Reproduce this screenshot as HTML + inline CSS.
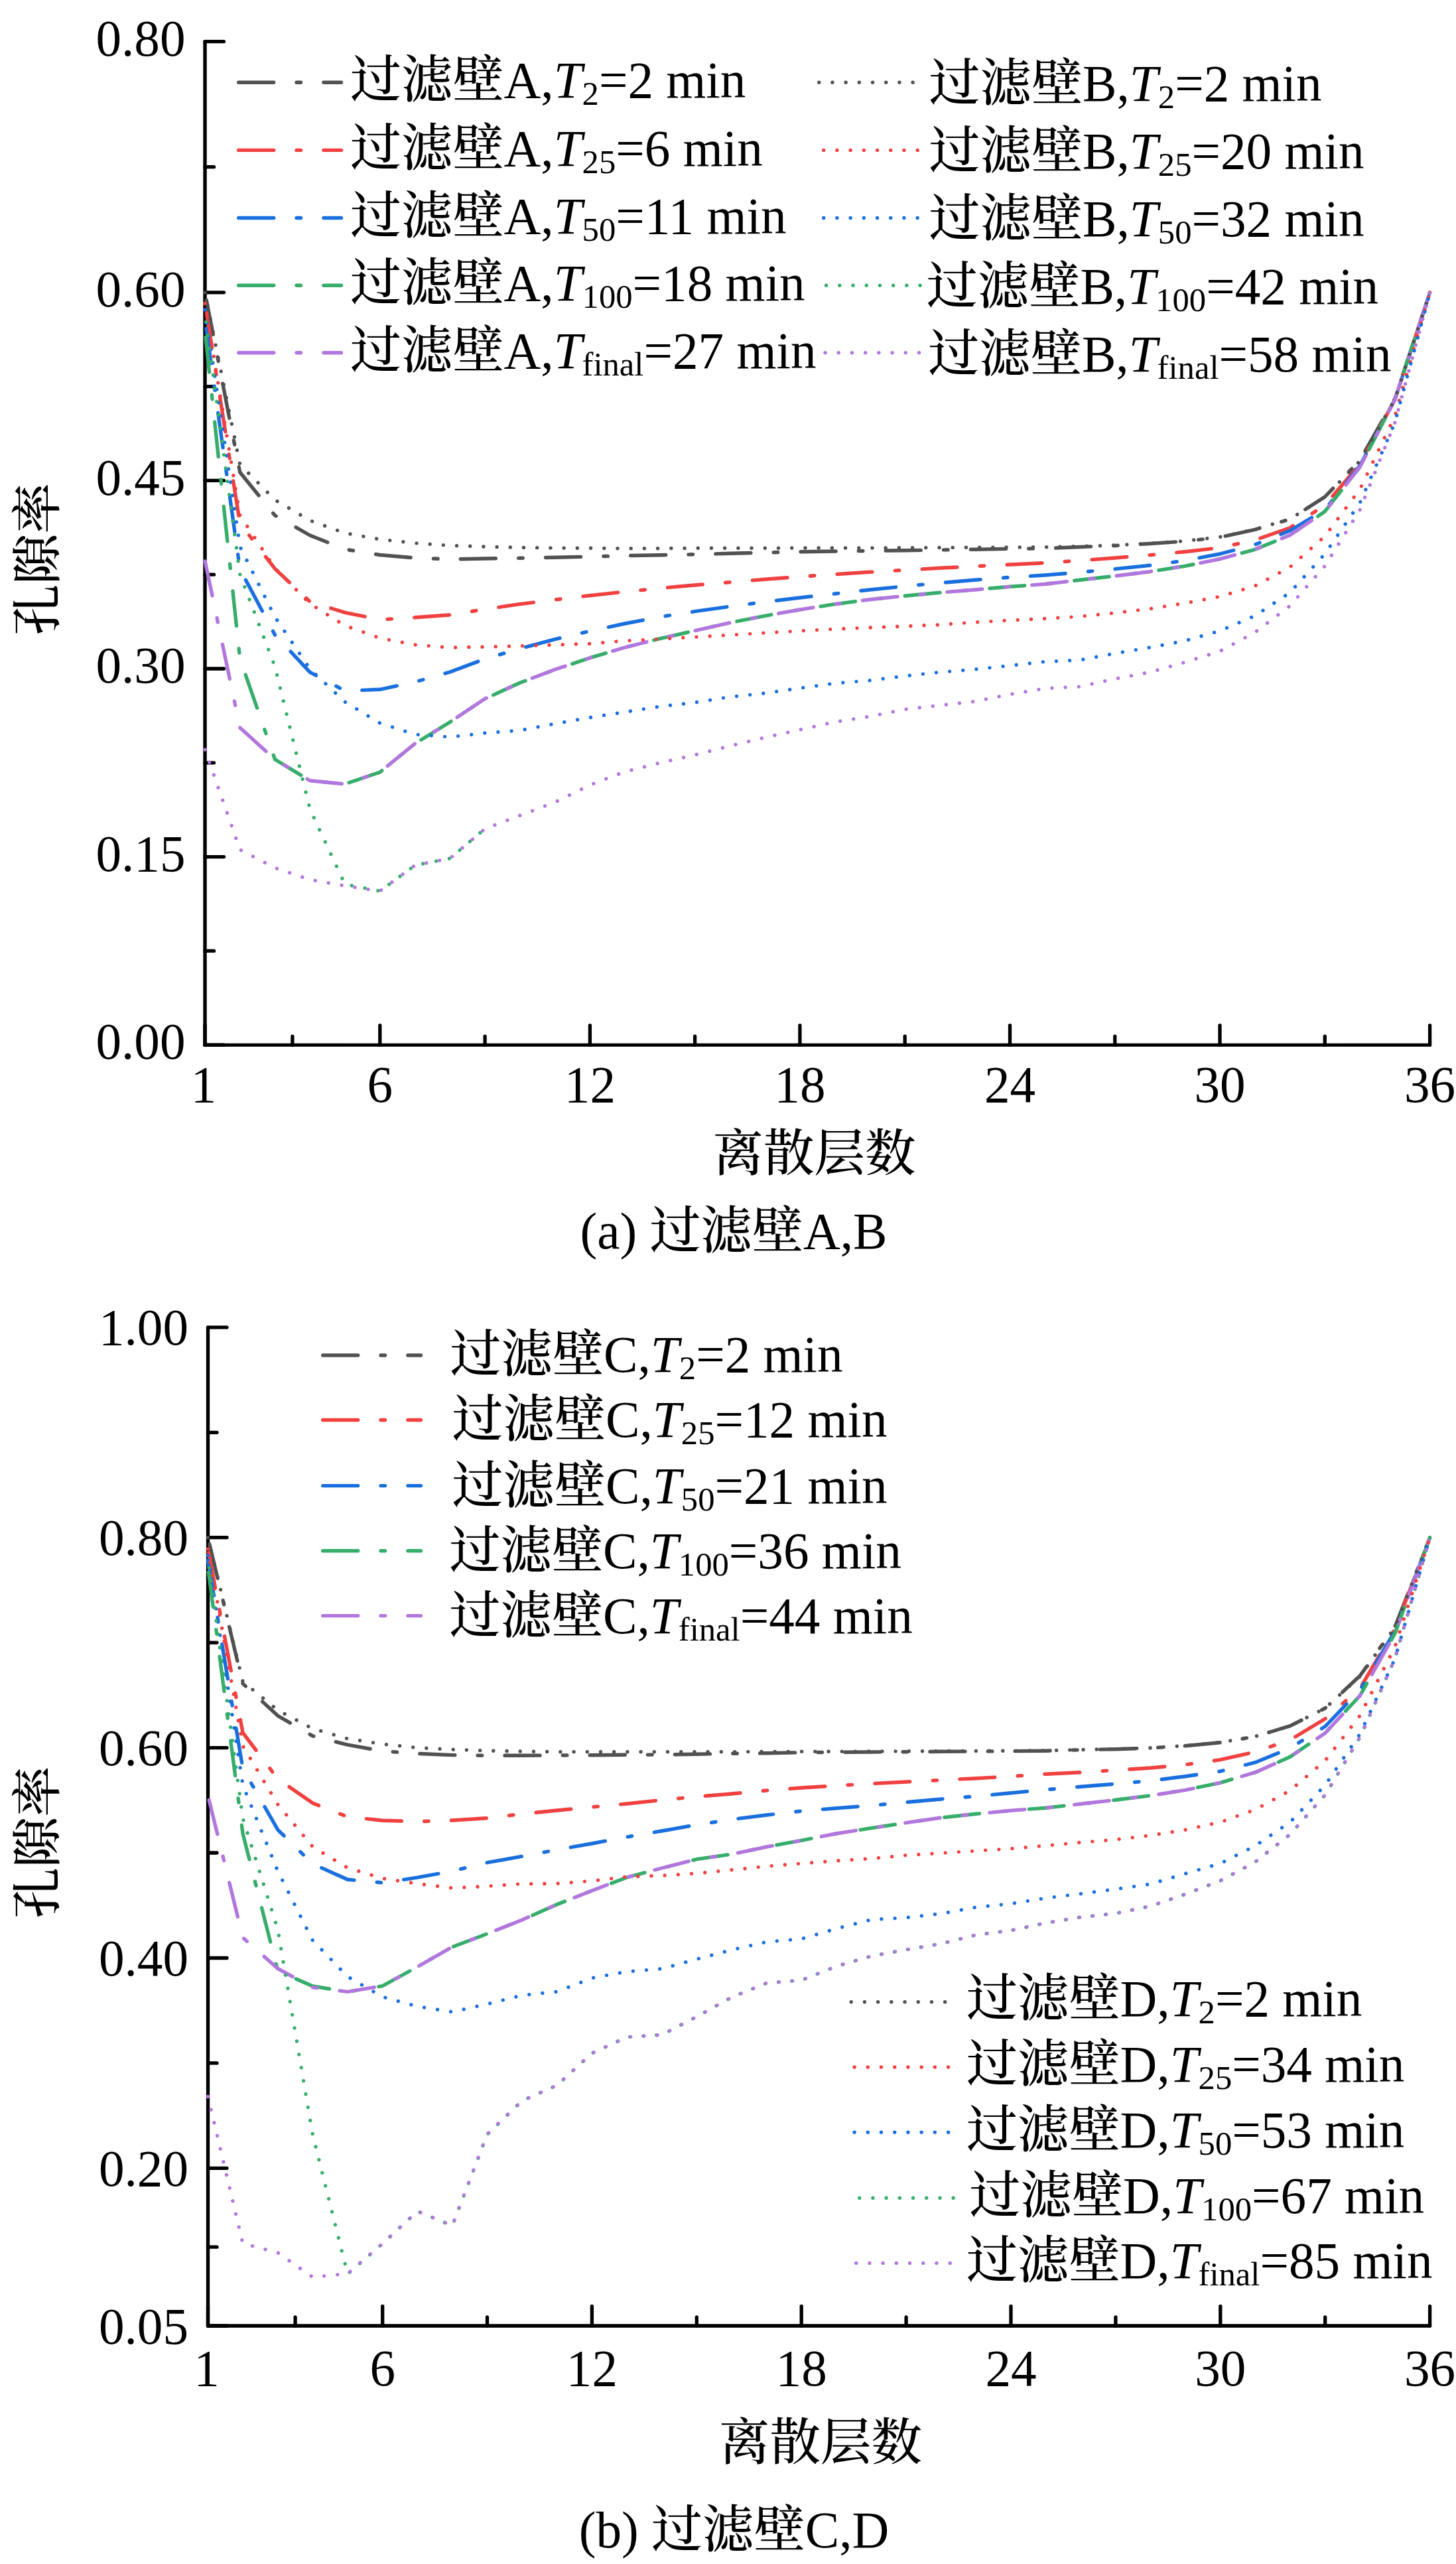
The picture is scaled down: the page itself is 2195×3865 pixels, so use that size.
<!DOCTYPE html>
<html lang="zh-CN">
<head>
<meta charset="utf-8">
<title>孔隙率 - 离散层数</title>
<style>
html,body{margin:0;padding:0;background:#fff;}
body{width:2195px;height:3865px;}
svg{display:block;}
text{font-family:"Liberation Serif", "Noto Serif CJK SC", serif;fill:#000;}
</style>
</head>
<body>
<svg width="2195" height="3865" viewBox="0 0 2195 3865">
<rect width="2195" height="3865" fill="#fff"/>

<g id="chart-a">
<line x1="309.0" y1="62.6" x2="309.0" y2="1575.2" stroke="#000" stroke-width="5.4" stroke-linecap="round"/>
<line x1="309.0" y1="1575.2" x2="2155.6" y2="1575.2" stroke="#000" stroke-width="5.0" stroke-linecap="round"/>
<line x1="309.0" y1="1575.2" x2="337.5" y2="1575.2" stroke="#000" stroke-width="5.3" stroke-linecap="round"/>
<text x="279.5" y="1596.4" font-size="77.2" text-anchor="end" >0.00</text>
<line x1="309.0" y1="1291.6" x2="337.5" y2="1291.6" stroke="#000" stroke-width="5.3" stroke-linecap="round"/>
<text x="279.5" y="1312.8" font-size="77.2" text-anchor="end" >0.15</text>
<line x1="309.0" y1="1008.0" x2="337.5" y2="1008.0" stroke="#000" stroke-width="5.3" stroke-linecap="round"/>
<text x="279.5" y="1029.2" font-size="77.2" text-anchor="end" >0.30</text>
<line x1="309.0" y1="724.4" x2="337.5" y2="724.4" stroke="#000" stroke-width="5.3" stroke-linecap="round"/>
<text x="279.5" y="745.6" font-size="77.2" text-anchor="end" >0.45</text>
<line x1="309.0" y1="440.8" x2="337.5" y2="440.8" stroke="#000" stroke-width="5.3" stroke-linecap="round"/>
<text x="279.5" y="461.9" font-size="77.2" text-anchor="end" >0.60</text>
<line x1="309.0" y1="62.6" x2="337.5" y2="62.6" stroke="#000" stroke-width="5.3" stroke-linecap="round"/>
<text x="279.5" y="83.8" font-size="77.2" text-anchor="end" >0.80</text>
<line x1="309.0" y1="1433.4" x2="322.5" y2="1433.4" stroke="#000" stroke-width="5.3" stroke-linecap="round"/>
<line x1="309.0" y1="1149.8" x2="322.5" y2="1149.8" stroke="#000" stroke-width="5.3" stroke-linecap="round"/>
<line x1="309.0" y1="866.2" x2="322.5" y2="866.2" stroke="#000" stroke-width="5.3" stroke-linecap="round"/>
<line x1="309.0" y1="582.6" x2="322.5" y2="582.6" stroke="#000" stroke-width="5.3" stroke-linecap="round"/>
<line x1="309.0" y1="251.7" x2="322.5" y2="251.7" stroke="#000" stroke-width="5.3" stroke-linecap="round"/>
<line x1="309.0" y1="1575.2" x2="309.0" y2="1545.7" stroke="#000" stroke-width="5.3" stroke-linecap="round"/>
<text x="307.0" y="1660.7" font-size="77.2" text-anchor="middle" >1</text>
<line x1="572.8" y1="1575.2" x2="572.8" y2="1545.7" stroke="#000" stroke-width="5.3" stroke-linecap="round"/>
<text x="572.8" y="1660.7" font-size="77.2" text-anchor="middle" >6</text>
<line x1="889.4" y1="1575.2" x2="889.4" y2="1545.7" stroke="#000" stroke-width="5.3" stroke-linecap="round"/>
<text x="889.4" y="1660.7" font-size="77.2" text-anchor="middle" >12</text>
<line x1="1205.9" y1="1575.2" x2="1205.9" y2="1545.7" stroke="#000" stroke-width="5.3" stroke-linecap="round"/>
<text x="1205.9" y="1660.7" font-size="77.2" text-anchor="middle" >18</text>
<line x1="1522.5" y1="1575.2" x2="1522.5" y2="1545.7" stroke="#000" stroke-width="5.3" stroke-linecap="round"/>
<text x="1522.5" y="1660.7" font-size="77.2" text-anchor="middle" >24</text>
<line x1="1839.0" y1="1575.2" x2="1839.0" y2="1545.7" stroke="#000" stroke-width="5.3" stroke-linecap="round"/>
<text x="1839.0" y="1660.7" font-size="77.2" text-anchor="middle" >30</text>
<line x1="2155.6" y1="1575.2" x2="2155.6" y2="1545.7" stroke="#000" stroke-width="5.3" stroke-linecap="round"/>
<text x="2155.6" y="1660.7" font-size="77.2" text-anchor="middle" >36</text>
<line x1="440.9" y1="1575.2" x2="440.9" y2="1562.2" stroke="#000" stroke-width="5.3" stroke-linecap="round"/>
<line x1="731.1" y1="1575.2" x2="731.1" y2="1562.2" stroke="#000" stroke-width="5.3" stroke-linecap="round"/>
<line x1="1047.6" y1="1575.2" x2="1047.6" y2="1562.2" stroke="#000" stroke-width="5.3" stroke-linecap="round"/>
<line x1="1364.2" y1="1575.2" x2="1364.2" y2="1562.2" stroke="#000" stroke-width="5.3" stroke-linecap="round"/>
<line x1="1680.8" y1="1575.2" x2="1680.8" y2="1562.2" stroke="#000" stroke-width="5.3" stroke-linecap="round"/>
<line x1="1997.3" y1="1575.2" x2="1997.3" y2="1562.2" stroke="#000" stroke-width="5.3" stroke-linecap="round"/>
<path d="M309.0,441.0 L361.8,712.0 L414.5,777.0 L467.3,807.0 L520.0,828.0 L572.8,836.5 L625.6,841.0 L678.3,843.0 L731.1,842.0 L783.8,841.3 L836.6,840.3 L889.4,839.0 L942.1,837.7 L994.9,836.7 L1047.6,835.7 L1100.4,834.3 L1153.2,833.0 L1205.9,831.7 L1258.7,831.0 L1311.4,830.3 L1364.2,829.7 L1417.0,829.0 L1469.7,828.2 L1522.5,827.3 L1575.2,826.7 L1628.0,824.5 L1680.8,822.5 L1733.5,819.5 L1786.3,816.0 L1839.0,810.0 L1891.8,798.3 L1944.6,782.7 L1997.3,749.0 L2050.1,693.7 L2102.8,601.0 L2155.6,441.0" fill="none" stroke="#515151" stroke-width="5.4" stroke-linecap="round" stroke-linejoin="round" stroke-dasharray="53 34.35 6.5 34.35" stroke-dashoffset="-11.5"/>
<path d="M309.0,457.0 L361.8,789.0 L414.5,857.4 L467.3,907.0 L520.0,923.4 L572.8,934.0 L625.6,930.8 L678.3,927.0 L731.1,918.3 L783.8,910.7 L836.6,904.0 L889.4,897.7 L942.1,892.0 L994.9,886.7 L1047.6,882.0 L1100.4,877.7 L1153.2,873.3 L1205.9,869.3 L1258.7,865.7 L1311.4,862.3 L1364.2,859.3 L1417.0,856.3 L1469.7,853.7 L1522.5,851.0 L1575.2,848.5 L1628.0,845.0 L1680.8,841.0 L1733.5,836.7 L1786.3,831.7 L1839.0,825.7 L1891.8,814.0 L1944.6,795.7 L1997.3,761.5 L2050.1,700.0 L2102.8,602.5 L2155.6,441.0" fill="none" stroke="#F14040" stroke-width="5.4" stroke-linecap="round" stroke-linejoin="round" stroke-dasharray="53 34.35 6.5 34.35" stroke-dashoffset="-15"/>
<path d="M309.0,482.0 L361.8,858.0 L414.5,957.0 L467.3,1013.3 L520.0,1041.3 L572.8,1039.3 L625.6,1028.0 L678.3,1013.0 L731.1,993.3 L783.8,977.7 L836.6,963.7 L889.4,951.3 L942.1,940.0 L994.9,930.0 L1047.6,921.7 L1100.4,914.2 L1153.2,907.3 L1205.9,901.0 L1258.7,895.0 L1311.4,889.0 L1364.2,883.7 L1417.0,878.7 L1469.7,874.3 L1522.5,870.3 L1575.2,867.0 L1628.0,862.7 L1680.8,857.7 L1733.5,852.3 L1786.3,845.0 L1839.0,835.0 L1891.8,821.0 L1944.6,800.0 L1997.3,768.5 L2050.1,702.0 L2102.8,602.5 L2155.6,441.0" fill="none" stroke="#1A6FDF" stroke-width="5.4" stroke-linecap="round" stroke-linejoin="round" stroke-dasharray="53 34.35 6.5 34.35" stroke-dashoffset="-13.5"/>
<path d="M309.0,499.0 L361.8,993.0 L414.5,1144.8 L467.3,1176.7 L520.0,1181.9 L572.8,1164.0 L625.6,1120.9 L678.3,1088.5 L731.1,1053.3 L783.8,1029.3 L836.6,1009.3 L889.4,991.7 L942.1,976.0 L994.9,962.7 L1047.6,950.7 L1100.4,938.8 L1153.2,928.3 L1205.9,919.0 L1258.7,910.7 L1311.4,903.7 L1364.2,898.3 L1417.0,893.3 L1469.7,889.0 L1522.5,884.3 L1575.2,880.5 L1628.0,874.3 L1680.8,868.3 L1733.5,861.7 L1786.3,853.3 L1839.0,842.7 L1891.8,828.3 L1944.6,806.7 L1997.3,771.0 L2050.1,704.0 L2102.8,602.5 L2155.6,441.0" fill="none" stroke="#37AD6B" stroke-width="5.4" stroke-linecap="round" stroke-linejoin="round" stroke-dasharray="53 34.35 6.5 34.35" stroke-dashoffset="-9.5"/>
<path d="M309.0,845.5 L361.8,1097.0 L414.5,1144.8 L467.3,1176.7 L520.0,1181.9 L572.8,1164.0 L625.6,1120.9 L678.3,1088.5 L731.1,1053.3 L783.8,1029.3 L836.6,1009.3 L889.4,991.7 L942.1,976.0 L994.9,962.7 L1047.6,950.7 L1100.4,938.8 L1153.2,928.3 L1205.9,919.0 L1258.7,910.7 L1311.4,903.7 L1364.2,898.3 L1417.0,893.3 L1469.7,889.0 L1522.5,884.3 L1575.2,880.5 L1628.0,874.3 L1680.8,868.3 L1733.5,861.7 L1786.3,853.3 L1839.0,842.7 L1891.8,828.3 L1944.6,806.7 L1997.3,771.0 L2050.1,704.0 L2102.8,602.5 L2155.6,441.0" fill="none" stroke="#B177DE" stroke-width="5.4" stroke-linecap="round" stroke-linejoin="round" stroke-dasharray="53 34.35 6.5 34.35" stroke-dashoffset="-0.5"/>
<path d="M309.0,441.0 L361.8,700.0 L414.5,753.6 L467.3,784.6 L520.0,803.6 L572.8,813.0 L625.6,818.7 L678.3,822.3 L731.1,824.0 L783.8,825.3 L836.6,826.0 L889.4,826.3 L942.1,826.7 L994.9,826.7 L1047.6,826.3 L1100.4,826.3 L1153.2,826.2 L1205.9,826.0 L1258.7,826.0 L1311.4,826.0 L1364.2,825.7 L1417.0,825.5 L1469.7,825.2 L1522.5,825.0 L1575.2,824.7 L1628.0,823.5 L1680.8,822.0 L1733.5,819.0 L1786.3,815.5 L1839.0,809.5 L1891.8,798.0 L1944.6,782.5 L1997.3,749.0 L2050.1,695.0 L2102.8,602.0 L2155.6,441.0" fill="none" stroke="#515151" stroke-width="5.4" stroke-linecap="round" stroke-linejoin="round" stroke-dasharray="0.01 20.2"/>
<path d="M309.0,457.5 L361.8,777.0 L414.5,856.6 L467.3,910.0 L520.0,943.0 L572.8,961.8 L625.6,972.0 L678.3,976.2 L731.1,975.0 L783.8,973.7 L836.6,972.0 L889.4,970.3 L942.1,966.0 L994.9,963.3 L1047.6,960.3 L1100.4,957.3 L1153.2,954.0 L1205.9,951.0 L1258.7,948.3 L1311.4,946.0 L1364.2,944.0 L1417.0,941.7 L1469.7,938.0 L1522.5,935.0 L1575.2,932.5 L1628.0,929.3 L1680.8,924.0 L1733.5,917.7 L1786.3,909.3 L1839.0,899.3 L1891.8,883.3 L1944.6,855.0 L1997.3,808.3 L2050.1,737.5 L2102.8,627.5 L2155.6,441.0" fill="none" stroke="#F14040" stroke-width="5.4" stroke-linecap="round" stroke-linejoin="round" stroke-dasharray="0.01 20.2"/>
<path d="M309.0,467.0 L361.8,824.0 L414.5,930.0 L467.3,1008.5 L520.0,1058.0 L572.8,1090.0 L625.6,1107.0 L678.3,1111.0 L731.1,1105.0 L783.8,1101.0 L836.6,1091.0 L889.4,1081.7 L942.1,1073.3 L994.9,1065.0 L1047.6,1059.0 L1100.4,1050.5 L1153.2,1045.0 L1205.9,1037.3 L1258.7,1030.0 L1311.4,1025.7 L1364.2,1019.0 L1417.0,1013.3 L1469.7,1009.0 L1522.5,1003.3 L1575.2,997.5 L1628.0,995.0 L1680.8,985.0 L1733.5,976.0 L1786.3,966.0 L1839.0,951.0 L1891.8,928.3 L1944.6,893.3 L1997.3,835.0 L2050.1,758.0 L2102.8,637.5 L2155.6,441.0" fill="none" stroke="#1A6FDF" stroke-width="5.4" stroke-linecap="round" stroke-linejoin="round" stroke-dasharray="0.01 20.2"/>
<path d="M309.0,474.4 L361.8,866.0 L414.5,1005.0 L467.3,1219.8 L520.0,1333.0 L572.8,1343.2 L625.6,1304.4 L678.3,1294.0 L731.1,1249.3" fill="none" stroke="#37AD6B" stroke-width="5.4" stroke-linecap="round" stroke-linejoin="round" stroke-dasharray="0.01 20.2" stroke-dashoffset="9.195904753510106"/>
<path d="M309.0,1130.0 L361.8,1280.8 L414.5,1308.2 L467.3,1326.0 L520.0,1335.4 L572.8,1343.2 L625.6,1304.4 L678.3,1294.0 L731.1,1249.3 L783.8,1229.3 L836.6,1209.3 L889.4,1183.3 L942.1,1163.3 L994.9,1150.0 L1047.6,1138.0 L1100.4,1124.5 L1153.2,1111.7 L1205.9,1100.0 L1258.7,1088.3 L1311.4,1080.0 L1364.2,1069.3 L1417.0,1063.3 L1469.7,1057.3 L1522.5,1046.7 L1575.2,1037.8 L1628.0,1035.0 L1680.8,1023.3 L1733.5,1013.3 L1786.3,998.3 L1839.0,981.7 L1891.8,953.3 L1944.6,913.3 L1997.3,853.3 L2050.1,768.8 L2102.8,637.5 L2155.6,441.0" fill="none" stroke="#B177DE" stroke-width="5.4" stroke-linecap="round" stroke-linejoin="round" stroke-dasharray="0.01 20.2"/>
<text x="1227.5" y="1765.0" font-size="76.5" text-anchor="middle" ><tspan font-weight="500">离散层数</tspan></text>
<text x="1106.0" y="1882.3" font-size="77.2" text-anchor="middle" >(a) <tspan font-weight="500">过滤壁</tspan>A,B</text>
<text transform="translate(82.5,842.7) rotate(-90)" font-size="76.5" text-anchor="middle" font-weight="500">孔隙率</text>
<path d="M359.7,124.3 L514.5,124.3" fill="none" stroke="#515151" stroke-width="5.4" stroke-linecap="round" stroke-linejoin="round" stroke-dasharray="53 34.35 6.5 34.35"/>
<text x="528.0" y="147.4" font-size="77.2"><tspan font-weight="500">过滤壁</tspan>A,<tspan font-style="italic">T</tspan><tspan font-size="50.7" dy="11">2</tspan><tspan dy="-11" dx="0">=2 min</tspan></text>
<path d="M1234.7,124.3 L1376.7,124.3" fill="none" stroke="#515151" stroke-width="5.4" stroke-linecap="round" stroke-linejoin="round" stroke-dasharray="0.01 20.2"/>
<text x="1400.5" y="152.1" font-size="77.2"><tspan font-weight="500">过滤壁</tspan>B,<tspan font-style="italic">T</tspan><tspan font-size="50.7" dy="11">2</tspan><tspan dy="-11" dx="0">=2 min</tspan></text>
<path d="M359.7,226.4 L514.5,226.4" fill="none" stroke="#F14040" stroke-width="5.4" stroke-linecap="round" stroke-linejoin="round" stroke-dasharray="53 34.35 6.5 34.35"/>
<text x="528.0" y="249.5" font-size="77.2"><tspan font-weight="500">过滤壁</tspan>A,<tspan font-style="italic">T</tspan><tspan font-size="50.7" dy="11">25</tspan><tspan dy="-11" dx="0">=6 min</tspan></text>
<path d="M1241.7,226.4 L1383.7,226.4" fill="none" stroke="#F14040" stroke-width="5.4" stroke-linecap="round" stroke-linejoin="round" stroke-dasharray="0.01 20.2"/>
<text x="1400.5" y="254.2" font-size="77.2"><tspan font-weight="500">过滤壁</tspan>B,<tspan font-style="italic">T</tspan><tspan font-size="50.7" dy="11">25</tspan><tspan dy="-11" dx="0">=20 min</tspan></text>
<path d="M359.7,328.5 L514.5,328.5" fill="none" stroke="#1A6FDF" stroke-width="5.4" stroke-linecap="round" stroke-linejoin="round" stroke-dasharray="53 34.35 6.5 34.35"/>
<text x="528.0" y="351.6" font-size="77.2"><tspan font-weight="500">过滤壁</tspan>A,<tspan font-style="italic">T</tspan><tspan font-size="50.7" dy="11">50</tspan><tspan dy="-11" dx="0">=11 min</tspan></text>
<path d="M1241.7,328.5 L1383.7,328.5" fill="none" stroke="#1A6FDF" stroke-width="5.4" stroke-linecap="round" stroke-linejoin="round" stroke-dasharray="0.01 20.2"/>
<text x="1400.5" y="356.3" font-size="77.2"><tspan font-weight="500">过滤壁</tspan>B,<tspan font-style="italic">T</tspan><tspan font-size="50.7" dy="11">50</tspan><tspan dy="-11" dx="0">=32 min</tspan></text>
<path d="M359.7,430.2 L514.5,430.2" fill="none" stroke="#37AD6B" stroke-width="5.4" stroke-linecap="round" stroke-linejoin="round" stroke-dasharray="53 34.35 6.5 34.35"/>
<text x="528.0" y="453.3" font-size="77.2"><tspan font-weight="500">过滤壁</tspan>A,<tspan font-style="italic">T</tspan><tspan font-size="50.7" dy="11">100</tspan><tspan dy="-11" dx="0">=18 min</tspan></text>
<path d="M1245.6,430.2 L1387.6,430.2" fill="none" stroke="#37AD6B" stroke-width="5.4" stroke-linecap="round" stroke-linejoin="round" stroke-dasharray="0.01 20.2"/>
<text x="1396.8" y="458.0" font-size="77.2"><tspan font-weight="500">过滤壁</tspan>B,<tspan font-style="italic">T</tspan><tspan font-size="50.7" dy="11">100</tspan><tspan dy="-11" dx="0">=42 min</tspan></text>
<path d="M359.7,531.8 L514.5,531.8" fill="none" stroke="#B177DE" stroke-width="5.4" stroke-linecap="round" stroke-linejoin="round" stroke-dasharray="53 34.35 6.5 34.35"/>
<text x="528.0" y="554.9" font-size="77.2"><tspan font-weight="500">过滤壁</tspan>A,<tspan font-style="italic">T</tspan><tspan font-size="50.7" dy="11">final</tspan><tspan dy="-11" dx="0">=27 min</tspan></text>
<path d="M1244.0,531.8 L1386.0,531.8" fill="none" stroke="#B177DE" stroke-width="5.4" stroke-linecap="round" stroke-linejoin="round" stroke-dasharray="0.01 20.2"/>
<text x="1399.3" y="559.6" font-size="77.2"><tspan font-weight="500">过滤壁</tspan>B,<tspan font-style="italic">T</tspan><tspan font-size="50.7" dy="11">final</tspan><tspan dy="-11" dx="0">=58 min</tspan></text>
</g>
<g id="chart-b">
<line x1="313.5" y1="2000.8" x2="313.5" y2="3506.0" stroke="#000" stroke-width="5.3" stroke-linecap="round"/>
<line x1="313.5" y1="3506.0" x2="2155.6" y2="3506.0" stroke="#000" stroke-width="5.3" stroke-linecap="round"/>
<line x1="313.5" y1="3506.0" x2="342.0" y2="3506.0" stroke="#000" stroke-width="5.3" stroke-linecap="round"/>
<text x="284.0" y="3532.5" font-size="77.2" text-anchor="end" >0.05</text>
<line x1="313.5" y1="3268.3" x2="342.0" y2="3268.3" stroke="#000" stroke-width="5.3" stroke-linecap="round"/>
<text x="284.0" y="3294.8" font-size="77.2" text-anchor="end" >0.20</text>
<line x1="313.5" y1="2951.5" x2="342.0" y2="2951.5" stroke="#000" stroke-width="5.3" stroke-linecap="round"/>
<text x="284.0" y="2978.0" font-size="77.2" text-anchor="end" >0.40</text>
<line x1="313.5" y1="2634.6" x2="342.0" y2="2634.6" stroke="#000" stroke-width="5.3" stroke-linecap="round"/>
<text x="284.0" y="2661.1" font-size="77.2" text-anchor="end" >0.60</text>
<line x1="313.5" y1="2317.7" x2="342.0" y2="2317.7" stroke="#000" stroke-width="5.3" stroke-linecap="round"/>
<text x="284.0" y="2344.2" font-size="77.2" text-anchor="end" >0.80</text>
<line x1="313.5" y1="2000.8" x2="342.0" y2="2000.8" stroke="#000" stroke-width="5.3" stroke-linecap="round"/>
<text x="284.0" y="2027.3" font-size="77.2" text-anchor="end" >1.00</text>
<line x1="313.5" y1="3387.2" x2="327.0" y2="3387.2" stroke="#000" stroke-width="5.3" stroke-linecap="round"/>
<line x1="313.5" y1="3109.9" x2="327.0" y2="3109.9" stroke="#000" stroke-width="5.3" stroke-linecap="round"/>
<line x1="313.5" y1="2793.0" x2="327.0" y2="2793.0" stroke="#000" stroke-width="5.3" stroke-linecap="round"/>
<line x1="313.5" y1="2476.1" x2="327.0" y2="2476.1" stroke="#000" stroke-width="5.3" stroke-linecap="round"/>
<line x1="313.5" y1="2159.3" x2="327.0" y2="2159.3" stroke="#000" stroke-width="5.3" stroke-linecap="round"/>
<line x1="313.5" y1="3506.0" x2="313.5" y2="3476.5" stroke="#000" stroke-width="5.3" stroke-linecap="round"/>
<text x="311.5" y="3595.5" font-size="77.2" text-anchor="middle" >1</text>
<line x1="576.7" y1="3506.0" x2="576.7" y2="3476.5" stroke="#000" stroke-width="5.3" stroke-linecap="round"/>
<text x="576.7" y="3595.5" font-size="77.2" text-anchor="middle" >6</text>
<line x1="892.4" y1="3506.0" x2="892.4" y2="3476.5" stroke="#000" stroke-width="5.3" stroke-linecap="round"/>
<text x="892.4" y="3595.5" font-size="77.2" text-anchor="middle" >12</text>
<line x1="1208.2" y1="3506.0" x2="1208.2" y2="3476.5" stroke="#000" stroke-width="5.3" stroke-linecap="round"/>
<text x="1208.2" y="3595.5" font-size="77.2" text-anchor="middle" >18</text>
<line x1="1524.0" y1="3506.0" x2="1524.0" y2="3476.5" stroke="#000" stroke-width="5.3" stroke-linecap="round"/>
<text x="1524.0" y="3595.5" font-size="77.2" text-anchor="middle" >24</text>
<line x1="1839.8" y1="3506.0" x2="1839.8" y2="3476.5" stroke="#000" stroke-width="5.3" stroke-linecap="round"/>
<text x="1839.8" y="3595.5" font-size="77.2" text-anchor="middle" >30</text>
<line x1="2155.6" y1="3506.0" x2="2155.6" y2="3476.5" stroke="#000" stroke-width="5.3" stroke-linecap="round"/>
<text x="2155.6" y="3595.5" font-size="77.2" text-anchor="middle" >36</text>
<line x1="445.1" y1="3506.0" x2="445.1" y2="3493.0" stroke="#000" stroke-width="5.3" stroke-linecap="round"/>
<line x1="734.5" y1="3506.0" x2="734.5" y2="3493.0" stroke="#000" stroke-width="5.3" stroke-linecap="round"/>
<line x1="1050.3" y1="3506.0" x2="1050.3" y2="3493.0" stroke="#000" stroke-width="5.3" stroke-linecap="round"/>
<line x1="1366.1" y1="3506.0" x2="1366.1" y2="3493.0" stroke="#000" stroke-width="5.3" stroke-linecap="round"/>
<line x1="1681.9" y1="3506.0" x2="1681.9" y2="3493.0" stroke="#000" stroke-width="5.3" stroke-linecap="round"/>
<line x1="1997.7" y1="3506.0" x2="1997.7" y2="3493.0" stroke="#000" stroke-width="5.3" stroke-linecap="round"/>
<path d="M313.5,2317.8 L366.1,2538.0 L418.8,2586.3 L471.4,2616.8 L524.0,2630.2 L576.7,2639.6 L629.3,2643.4 L681.9,2645.6 L734.5,2646.3 L787.2,2646.3 L839.8,2646.0 L892.4,2645.7 L945.1,2645.3 L997.7,2645.0 L1050.3,2644.3 L1103.0,2643.3 L1155.6,2642.8 L1208.2,2641.7 L1260.8,2641.3 L1313.5,2641.0 L1366.1,2640.7 L1418.7,2640.3 L1471.4,2640.0 L1524.0,2639.7 L1576.6,2639.2 L1629.2,2637.7 L1681.9,2636.7 L1734.5,2635.0 L1787.1,2631.7 L1839.8,2626.7 L1892.4,2617.7 L1945.0,2601.7 L1997.7,2575.0 L2050.3,2526.0 L2102.9,2452.5 L2155.6,2317.8" fill="none" stroke="#515151" stroke-width="5.4" stroke-linecap="round" stroke-linejoin="round" stroke-dasharray="53 34.35 6.5 34.35" stroke-dashoffset="-10"/>
<path d="M313.5,2335.0 L366.1,2612.0 L418.8,2681.5 L471.4,2718.0 L524.0,2738.7 L576.7,2744.2 L629.3,2745.8 L681.9,2744.0 L734.5,2740.7 L787.2,2734.3 L839.8,2729.0 L892.4,2724.0 L945.1,2719.0 L997.7,2713.3 L1050.3,2708.3 L1103.0,2704.0 L1155.6,2699.0 L1208.2,2695.0 L1260.8,2691.7 L1313.5,2688.7 L1366.1,2686.0 L1418.7,2683.3 L1471.4,2680.7 L1524.0,2677.7 L1576.6,2674.2 L1629.2,2671.7 L1681.9,2668.3 L1734.5,2665.0 L1787.1,2660.0 L1839.8,2652.7 L1892.4,2640.7 L1945.0,2622.7 L1997.7,2591.0 L2050.3,2545.0 L2102.9,2456.0 L2155.6,2317.8" fill="none" stroke="#F14040" stroke-width="5.4" stroke-linecap="round" stroke-linejoin="round" stroke-dasharray="53 34.35 6.5 34.35" stroke-dashoffset="-5.5"/>
<path d="M313.5,2352.0 L366.1,2666.0 L418.8,2758.2 L471.4,2809.6 L524.0,2833.2 L576.7,2838.1 L629.3,2830.2 L681.9,2820.5 L734.5,2807.7 L787.2,2798.3 L839.8,2788.3 L892.4,2779.0 L945.1,2769.0 L997.7,2760.0 L1050.3,2750.7 L1103.0,2742.7 L1155.6,2736.0 L1208.2,2730.0 L1260.8,2725.7 L1313.5,2721.7 L1366.1,2716.7 L1418.7,2712.0 L1471.4,2707.7 L1524.0,2702.7 L1576.6,2697.8 L1629.2,2693.3 L1681.9,2689.0 L1734.5,2684.3 L1787.1,2677.7 L1839.8,2670.0 L1892.4,2656.7 L1945.0,2635.0 L1997.7,2602.5 L2050.3,2547.5 L2102.9,2458.8 L2155.6,2317.8" fill="none" stroke="#1A6FDF" stroke-width="5.4" stroke-linecap="round" stroke-linejoin="round" stroke-dasharray="53 34.35 6.5 34.35"/>
<path d="M313.5,2363.0 L366.1,2764.2 L418.8,2971.0 L471.4,2994.0 L524.0,3002.4 L576.7,2993.6 L629.3,2964.8 L681.9,2934.8 L734.5,2915.0 L787.2,2894.0 L839.8,2870.7 L892.4,2850.0 L945.1,2830.0 L997.7,2816.0 L1050.3,2802.7 L1103.0,2795.0 L1155.6,2784.0 L1208.2,2774.3 L1260.8,2764.0 L1313.5,2755.7 L1366.1,2747.7 L1418.7,2740.0 L1471.4,2734.3 L1524.0,2729.3 L1576.6,2725.2 L1629.2,2719.3 L1681.9,2713.3 L1734.5,2706.7 L1787.1,2698.3 L1839.8,2687.3 L1892.4,2671.7 L1945.0,2648.3 L1997.7,2612.5 L2050.3,2556.0 L2102.9,2462.5 L2155.6,2317.8" fill="none" stroke="#37AD6B" stroke-width="5.4" stroke-linecap="round" stroke-linejoin="round" stroke-dasharray="53 34.35 6.5 34.35" stroke-dashoffset="-7"/>
<path d="M313.5,2706.6 L366.1,2920.8 L418.8,2967.5 L471.4,2995.8 L524.0,3002.4 L576.7,2993.6 L629.3,2964.8 L681.9,2934.8 L734.5,2915.0 L787.2,2894.0 L839.8,2870.7 L892.4,2850.0 L945.1,2830.0 L997.7,2816.0 L1050.3,2802.7 L1103.0,2795.0 L1155.6,2784.0 L1208.2,2774.3 L1260.8,2764.0 L1313.5,2755.7 L1366.1,2747.7 L1418.7,2740.0 L1471.4,2734.3 L1524.0,2729.3 L1576.6,2725.2 L1629.2,2719.3 L1681.9,2713.3 L1734.5,2706.7 L1787.1,2698.3 L1839.8,2687.3 L1892.4,2671.7 L1945.0,2648.3 L1997.7,2612.5 L2050.3,2556.0 L2102.9,2462.5 L2155.6,2317.8" fill="none" stroke="#B177DE" stroke-width="5.4" stroke-linecap="round" stroke-linejoin="round" stroke-dasharray="53 34.35 6.5 34.35" stroke-dashoffset="-7"/>
<path d="M313.5,2317.8 L366.1,2534.9 L418.8,2578.0 L471.4,2605.8 L524.0,2620.9 L576.7,2629.1 L629.3,2634.6 L681.9,2637.2 L734.5,2639.0 L787.2,2640.0 L839.8,2640.7 L892.4,2640.7 L945.1,2640.7 L997.7,2640.7 L1050.3,2640.7 L1103.0,2640.7 L1155.6,2640.5 L1208.2,2640.3 L1260.8,2640.2 L1313.5,2640.0 L1366.1,2639.8 L1418.7,2639.6 L1471.4,2639.4 L1524.0,2639.2 L1576.6,2638.8 L1629.2,2637.5 L1681.9,2636.5 L1734.5,2634.8 L1787.1,2631.5 L1839.8,2626.5 L1892.4,2617.5 L1945.0,2601.7 L1997.7,2575.0 L2050.3,2527.0 L2102.9,2453.0 L2155.6,2317.8" fill="none" stroke="#515151" stroke-width="5.4" stroke-linecap="round" stroke-linejoin="round" stroke-dasharray="0.01 20.2"/>
<path d="M313.5,2335.0 L366.1,2632.0 L418.8,2720.0 L471.4,2784.0 L524.0,2815.6 L576.7,2831.5 L629.3,2839.5 L681.9,2846.0 L734.5,2843.3 L787.2,2839.7 L839.8,2839.3 L892.4,2835.3 L945.1,2829.0 L997.7,2827.3 L1050.3,2824.0 L1103.0,2818.8 L1155.6,2813.3 L1208.2,2809.0 L1260.8,2805.0 L1313.5,2801.7 L1366.1,2796.7 L1418.7,2793.3 L1471.4,2790.0 L1524.0,2786.7 L1576.6,2782.2 L1629.2,2777.3 L1681.9,2773.0 L1734.5,2766.7 L1787.1,2758.3 L1839.8,2746.7 L1892.4,2727.7 L1945.0,2699.0 L1997.7,2654.0 L2050.3,2586.0 L2102.9,2482.5 L2155.6,2317.8" fill="none" stroke="#F14040" stroke-width="5.4" stroke-linecap="round" stroke-linejoin="round" stroke-dasharray="0.01 20.2"/>
<path d="M313.5,2345.0 L366.1,2691.0 L418.8,2820.5 L471.4,2925.0 L524.0,2979.5 L576.7,3010.1 L629.3,3024.5 L681.9,3032.8 L734.5,3021.0 L787.2,3007.7 L839.8,3002.3 L892.4,2981.7 L945.1,2972.0 L997.7,2967.7 L1050.3,2953.3 L1103.0,2939.3 L1155.6,2927.3 L1208.2,2922.7 L1260.8,2907.3 L1313.5,2893.7 L1366.1,2890.7 L1418.7,2884.7 L1471.4,2875.0 L1524.0,2869.7 L1576.6,2861.2 L1629.2,2854.7 L1681.9,2847.7 L1734.5,2840.0 L1787.1,2824.3 L1839.8,2809.0 L1892.4,2782.3 L1945.0,2746.7 L1997.7,2691.0 L2050.3,2613.8 L2102.9,2500.5 L2155.6,2317.8" fill="none" stroke="#1A6FDF" stroke-width="5.4" stroke-linecap="round" stroke-linejoin="round" stroke-dasharray="0.01 20.2"/>
<path d="M313.5,2351.5 L366.1,2741.0 L418.8,2908.5 L471.4,3218.0 L524.0,3428.0 L576.7,3382.0 L629.3,3333.3 L681.9,3355.0 L734.5,3217.3 L787.2,3166.7 L839.8,3143.3 L892.4,3095.0 L945.1,3070.7 L997.7,3067.3 L1050.3,3040.0 L1103.0,3010.7 L1155.6,2989.3 L1208.2,2985.0 L1260.8,2964.0 L1313.5,2948.7 L1366.1,2939.0 L1418.7,2930.0 L1471.4,2916.7 L1524.0,2910.0 L1576.6,2898.7 L1629.2,2890.0 L1681.9,2884.3 L1734.5,2873.3 L1787.1,2855.3 L1839.8,2835.0 L1892.4,2806.7 L1945.0,2765.0 L1997.7,2705.7 L2050.3,2618.8 L2102.9,2500.5 L2155.6,2317.8" fill="none" stroke="#37AD6B" stroke-width="5.4" stroke-linecap="round" stroke-linejoin="round" stroke-dasharray="0.01 20.2" stroke-dashoffset="8.24037157378186"/>
<path d="M313.5,3160.5 L366.1,3382.0 L418.8,3395.7 L471.4,3432.7 L524.0,3427.3 L576.7,3382.0 L629.3,3333.3 L681.9,3355.0 L734.5,3217.3 L787.2,3166.7 L839.8,3143.3 L892.4,3095.0 L945.1,3070.7 L997.7,3067.3 L1050.3,3040.0 L1103.0,3010.7 L1155.6,2989.3 L1208.2,2985.0 L1260.8,2964.0 L1313.5,2948.7 L1366.1,2939.0 L1418.7,2930.0 L1471.4,2916.7 L1524.0,2910.0 L1576.6,2898.7 L1629.2,2890.0 L1681.9,2884.3 L1734.5,2873.3 L1787.1,2855.3 L1839.8,2835.0 L1892.4,2806.7 L1945.0,2765.0 L1997.7,2705.7 L2050.3,2618.8 L2102.9,2500.5 L2155.6,2317.8" fill="none" stroke="#B177DE" stroke-width="5.4" stroke-linecap="round" stroke-linejoin="round" stroke-dasharray="0.01 20.2"/>
<text x="1237.0" y="3708.0" font-size="76.5" text-anchor="middle" ><tspan font-weight="500">离散层数</tspan></text>
<text x="1106.5" y="3840.0" font-size="77.2" text-anchor="middle" >(b) <tspan font-weight="500">过滤壁</tspan>C,D</text>
<text transform="translate(82.5,2777) rotate(-90)" font-size="76.5" text-anchor="middle" font-weight="500">孔隙率</text>
<path d="M486.7,2043.0 L634.5,2043.0" fill="none" stroke="#515151" stroke-width="5.4" stroke-linecap="round" stroke-linejoin="round" stroke-dasharray="53 34.35 6.5 34.35"/>
<text x="678.5" y="2067.5" font-size="77.2"><tspan font-weight="500">过滤壁</tspan>C,<tspan font-style="italic">T</tspan><tspan font-size="50.7" dy="11">2</tspan><tspan dy="-11" dx="0">=2 min</tspan></text>
<path d="M486.7,2140.5 L634.5,2140.5" fill="none" stroke="#F14040" stroke-width="5.4" stroke-linecap="round" stroke-linejoin="round" stroke-dasharray="53 34.35 6.5 34.35"/>
<text x="681.5" y="2166.4" font-size="77.2"><tspan font-weight="500">过滤壁</tspan>C,<tspan font-style="italic">T</tspan><tspan font-size="50.7" dy="11">25</tspan><tspan dy="-11" dx="0">=12 min</tspan></text>
<path d="M486.7,2239.6 L634.5,2239.6" fill="none" stroke="#1A6FDF" stroke-width="5.4" stroke-linecap="round" stroke-linejoin="round" stroke-dasharray="53 34.35 6.5 34.35"/>
<text x="681.5" y="2266.0" font-size="77.2"><tspan font-weight="500">过滤壁</tspan>C,<tspan font-style="italic">T</tspan><tspan font-size="50.7" dy="11">50</tspan><tspan dy="-11" dx="0">=21 min</tspan></text>
<path d="M486.7,2337.8 L634.5,2337.8" fill="none" stroke="#37AD6B" stroke-width="5.4" stroke-linecap="round" stroke-linejoin="round" stroke-dasharray="53 34.35 6.5 34.35"/>
<text x="677.5" y="2364.0" font-size="77.2"><tspan font-weight="500">过滤壁</tspan>C,<tspan font-style="italic">T</tspan><tspan font-size="50.7" dy="11">100</tspan><tspan dy="-11" dx="0">=36 min</tspan></text>
<path d="M486.7,2435.6 L634.5,2435.6" fill="none" stroke="#B177DE" stroke-width="5.4" stroke-linecap="round" stroke-linejoin="round" stroke-dasharray="53 34.35 6.5 34.35"/>
<text x="677.5" y="2462.2" font-size="77.2"><tspan font-weight="500">过滤壁</tspan>C,<tspan font-style="italic">T</tspan><tspan font-size="50.7" dy="11">final</tspan><tspan dy="-11" dx="0">=44 min</tspan></text>
<path d="M1283.2,3017.8 L1425.2,3017.8" fill="none" stroke="#515151" stroke-width="5.4" stroke-linecap="round" stroke-linejoin="round" stroke-dasharray="0.01 20.2"/>
<text x="1457.0" y="3039.2" font-size="77.2"><tspan font-weight="500">过滤壁</tspan>D,<tspan font-style="italic">T</tspan><tspan font-size="50.7" dy="11">2</tspan><tspan dy="-11" dx="0">=2 min</tspan></text>
<path d="M1288.1,3116.0 L1430.1,3116.0" fill="none" stroke="#F14040" stroke-width="5.4" stroke-linecap="round" stroke-linejoin="round" stroke-dasharray="0.01 20.2"/>
<text x="1457.0" y="3138.0" font-size="77.2"><tspan font-weight="500">过滤壁</tspan>D,<tspan font-style="italic">T</tspan><tspan font-size="50.7" dy="11">25</tspan><tspan dy="-11" dx="0">=34 min</tspan></text>
<path d="M1288.1,3214.3 L1430.1,3214.3" fill="none" stroke="#1A6FDF" stroke-width="5.4" stroke-linecap="round" stroke-linejoin="round" stroke-dasharray="0.01 20.2"/>
<text x="1457.0" y="3236.7" font-size="77.2"><tspan font-weight="500">过滤壁</tspan>D,<tspan font-style="italic">T</tspan><tspan font-size="50.7" dy="11">50</tspan><tspan dy="-11" dx="0">=53 min</tspan></text>
<path d="M1295.7,3313.2 L1437.7,3313.2" fill="none" stroke="#37AD6B" stroke-width="5.4" stroke-linecap="round" stroke-linejoin="round" stroke-dasharray="0.01 20.2"/>
<text x="1461.5" y="3335.6" font-size="77.2"><tspan font-weight="500">过滤壁</tspan>D,<tspan font-style="italic">T</tspan><tspan font-size="50.7" dy="11">100</tspan><tspan dy="-11" dx="0">=67 min</tspan></text>
<path d="M1290.7,3411.4 L1432.7,3411.4" fill="none" stroke="#B177DE" stroke-width="5.4" stroke-linecap="round" stroke-linejoin="round" stroke-dasharray="0.01 20.2"/>
<text x="1457.0" y="3434.3" font-size="77.2"><tspan font-weight="500">过滤壁</tspan>D,<tspan font-style="italic">T</tspan><tspan font-size="50.7" dy="11">final</tspan><tspan dy="-11" dx="0">=85 min</tspan></text>
</g>
</svg>
</body>
</html>
